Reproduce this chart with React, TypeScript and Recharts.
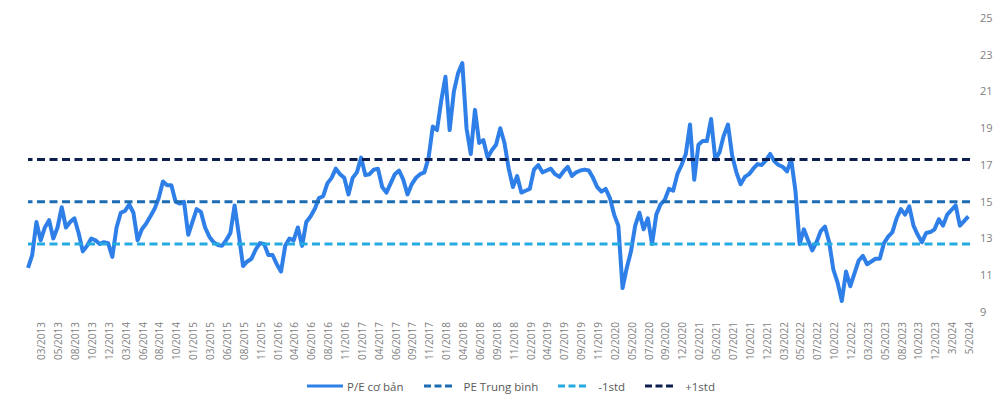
import React from "react";
import {
  LineChart,
  Line,
  XAxis,
  YAxis,
  ReferenceLine,
  Legend,
} from "recharts";

// x-axis labels, one every 4 points
const tickLabels = [
  "03/2013", "05/2013", "08/2013", "10/2013", "12/2013", "03/2014", "06/2014", "08/2014",
  "10/2014", "01/2015", "03/2015", "06/2015", "08/2015", "11/2015", "01/2016", "04/2016",
  "06/2016", "08/2016", "11/2016", "01/2017", "04/2017", "06/2017", "09/2017", "11/2017",
  "01/2018", "04/2018", "06/2018", "09/2018", "11/2018", "02/2019", "04/2019", "07/2019",
  "09/2019", "11/2019", "02/2020", "05/2020", "07/2020", "09/2020", "12/2020", "02/2021",
  "05/2021", "07/2021", "10/2021", "12/2021", "03/2022", "05/2022", "07/2022", "10/2022",
  "12/2022", "03/2023", "05/2023", "08/2023", "10/2023", "12/2023", "3/2024", "5/2024",
];

// P/E values
const peValues = [
  11.4, 12.1, 13.9, 12.9, 13.6, 14.0, 13.0, 13.6, 14.7, 13.6,
  13.9, 14.1, 13.3, 12.3, 12.6, 13.0, 12.9, 12.7, 12.8, 12.75,
  12.0, 13.6, 14.4, 14.5, 14.85, 14.4, 12.9, 13.5, 13.8, 14.2,
  14.6, 15.2, 16.1, 15.9, 15.9, 15.0, 14.9, 15.0, 13.2, 13.9,
  14.6, 14.45, 13.6, 13.1, 12.8, 12.65, 12.6, 12.9, 13.3, 14.8,
  13.2, 11.5, 11.75, 11.9, 12.4, 12.75, 12.7, 12.1, 12.1, 11.6,
  11.2, 12.6, 13.0, 12.9, 13.6, 12.6, 13.9, 14.2, 14.6, 15.2,
  15.3, 16.0, 16.3, 16.8, 16.5, 16.3, 15.4, 16.3, 16.6, 17.4,
  16.45, 16.5, 16.75, 16.8, 15.8, 15.5, 16.0, 16.5, 16.7, 16.2,
  15.4, 15.95, 16.3, 16.5, 16.6, 17.4, 19.1, 18.9, 20.5, 21.8,
  18.9, 21.0, 22.0, 22.55, 19.0, 17.6, 20.0, 18.2, 18.35, 17.4,
  17.8, 18.1, 19.0, 18.2, 16.8, 15.8, 16.4, 15.5, 15.6, 15.7,
  16.75, 17.0, 16.6, 16.7, 16.8, 16.5, 16.35, 16.65, 16.9, 16.4,
  16.6, 16.7, 16.75, 16.7, 16.3, 15.8, 15.55, 15.7, 15.2, 14.3,
  13.7, 10.3, 11.4, 12.3, 13.7, 14.4, 13.5, 14.1, 12.7, 14.3,
  14.85, 15.1, 15.7, 15.6, 16.5, 17.0, 17.6, 19.2, 16.2, 18.1,
  18.3, 18.3, 19.5, 17.3, 17.7, 18.6, 19.2, 17.5, 16.6, 15.95,
  16.35, 16.5, 16.8, 17.05, 17.0, 17.25, 17.6, 17.2, 17.0, 16.9,
  16.65, 17.3, 15.6, 12.7, 13.5, 12.9, 12.35, 12.8, 13.4, 13.65,
  12.8, 11.3, 10.6, 9.6, 11.2, 10.4, 11.1, 11.8, 12.05, 11.6,
  11.75, 11.9, 11.9, 12.75, 13.1, 13.35, 14.1, 14.6, 14.3, 14.75,
  13.7, 13.2, 12.8, 13.3, 13.35, 13.5, 14.05, 13.7, 14.3, 14.55,
  14.8, 13.7, 13.95, 14.2,
];

const peMean = 15.0;
const peMinusStd = 12.7;
const pePlusStd = 17.3;

const yTicks = [9, 11, 13, 15, 17, 19, 21, 23, 25];

const TICK_START = 3.3;
const TICK_STEP = 4;
const xTicks = tickLabels.map((_, k) => TICK_START + TICK_STEP * k);

const data = peValues.map((pe, i) => ({ i, pe }));

const FONT = "'Open Sans', 'Noto Sans', sans-serif";
const PE_COLOR = "#2f7fe8";
const MEAN_COLOR = "#1c6cb3";
const MINUS_COLOR = "#25aae2";
const PLUS_COLOR = "#0c1f4e";

function XTick(props: any) {
  const { x, y, payload } = props;
  const k = Math.round((payload.value - TICK_START) / TICK_STEP);
  return (
    <g transform={`translate(${x},${y})`}>
      <text
        transform="rotate(-90)"
        x={0}
        y={0}
        dy="0.35em"
        textAnchor="end"
        fontSize={10}
        fontFamily={FONT}
        fill="#7f7f7f"
      >
        {tickLabels[k]}
      </text>
    </g>
  );
}

const legendItems = [
  { name: "P/E cơ bản", color: PE_COLOR, dashed: false },
  { name: "PE Trung bình", color: MEAN_COLOR, dashed: true },
  { name: "-1std", color: MINUS_COLOR, dashed: true },
  { name: "+1std", color: PLUS_COLOR, dashed: true },
];

function LegendContent() {
  return (
    <div
      style={{
        display: "flex",
        justifyContent: "center",
        alignItems: "center",
        fontFamily: FONT,
        fontSize: 11.5,
        color: "#595959",
        height: 40,
        paddingLeft: 42,
      }}
    >
      {legendItems.map((it) => (
        <div
          key={it.name}
          style={{ display: "flex", alignItems: "center", marginRight: 20 }}
        >
          {it.dashed ? (
            <svg width={28} height={6} style={{ marginRight: 12 }}>
              <line
                x1={0}
                y1={3}
                x2={28}
                y2={3}
                stroke={it.color}
                strokeWidth={3}
                strokeDasharray="7 3.5"
              />
            </svg>
          ) : (
            <svg width={36} height={6} style={{ marginRight: 4 }}>
              <line x1={0} y1={3} x2={36} y2={3} stroke={it.color} strokeWidth={3} />
            </svg>
          )}
          <span>{it.name}</span>
        </div>
      ))}
    </div>
  );
}

export default function App() {
  return (
    <div style={{ position: "absolute", left: 0, top: 0, background: "#fff" }}>
      <LineChart
        width={1000}
        height={406}
        data={data}
        margin={{ top: 18, right: 0, bottom: 0, left: 28 }}
      >
        <XAxis
          type="number"
          dataKey="i"
          domain={[0, 223.4]}
          ticks={xTicks}
          interval={0}
          tick={<XTick />}
          tickLine={false}
          axisLine={false}
          tickMargin={4}
          height={54}
        />
        <YAxis
          orientation="right"
          domain={[9, 25]}
          ticks={yTicks}
          interval={0}
          tickLine={false}
          axisLine={false}
          tickMargin={4}
          width={30}
          tick={{ fontSize: 11, fill: "#7f7f7f", fontFamily: FONT, textAnchor: "start" }}
        />
        <Line
          type="linear"
          dataKey="pe"
          stroke={PE_COLOR}
          strokeWidth={4}
          strokeLinejoin="round"
          dot={false}
          isAnimationActive={false}
        />
        <ReferenceLine y={peMean} stroke={MEAN_COLOR} strokeWidth={3} strokeDasharray="8 4.5" />
        <ReferenceLine y={peMinusStd} stroke={MINUS_COLOR} strokeWidth={3} strokeDasharray="8 4.5" />
        <ReferenceLine y={pePlusStd} stroke={PLUS_COLOR} strokeWidth={3} strokeDasharray="8 4.5" />
        <Legend
          verticalAlign="bottom"
          height={40}
          content={<LegendContent />}
          wrapperStyle={{ left: 0, width: 1000 }}
        />
      </LineChart>
    </div>
  );
}
